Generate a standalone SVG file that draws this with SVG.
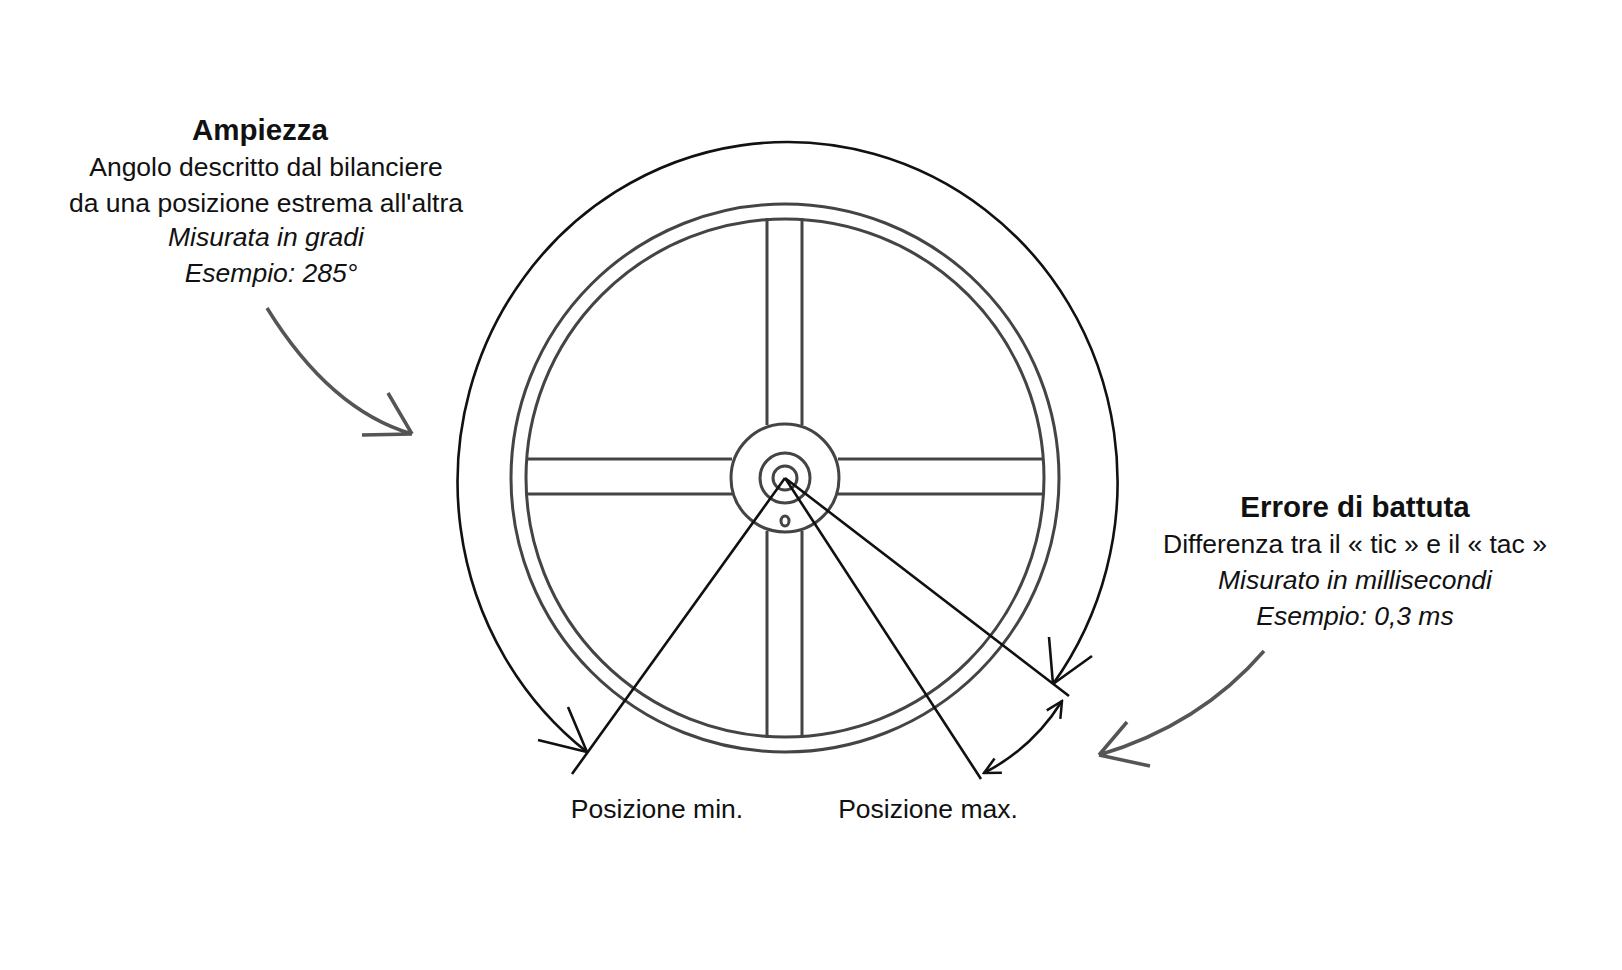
<svg xmlns="http://www.w3.org/2000/svg" width="1622" height="970" viewBox="0 0 1622 970">
<style>
text{font-family:"Liberation Sans",Arial,sans-serif;font-size:26.5px;fill:#111;text-anchor:middle}
.b{font-weight:bold;font-size:29.5px}
.i{font-style:italic}
.wheel{fill:none;stroke:#444;stroke-width:3}
.blk{fill:none;stroke:#111;stroke-width:2.6}
.gry{fill:none;stroke:#555;stroke-width:3.5}
</style>
<defs>
<marker id="v" viewBox="0 0 20 20" refX="18" refY="10" markerWidth="20" markerHeight="20" markerUnits="userSpaceOnUse" orient="auto-start-reverse">
<path d="M2 2 L18 10 L2 18" fill="none" stroke="#111" stroke-width="2.5"/>
</marker>
</defs>
<rect width="1622" height="970" fill="#fff"/>
<g id="wheel">
<circle class="wheel" cx="785" cy="478" r="274"/>
<circle class="wheel" cx="785" cy="478" r="259"/>
<path class="wheel" d="M767 218 V425 M802 218 V425 M767 531 V738 M802 531 V738 M526 459 H732 M526 494 H732 M838 459 H1044 M838 494 H1044"/>
<circle class="wheel" cx="785" cy="478" r="54"/>
<circle class="wheel" cx="785" cy="478" r="25"/>
<circle class="wheel" cx="785" cy="478" r="12"/>
<ellipse class="wheel" cx="785" cy="521" rx="4" ry="5" stroke-width="2"/>
</g>
<g id="connectors">
<path class="blk" d="M785 478 L572 774 M785 478 L981 779 M785 478 L1069 696"/>
<path class="blk" d="M587 752 A330 340 0 1 1 1053 684"/>
<path class="blk" d="M587 752 L538 740 M587 752 L568 707 M1053 684 L1049 637 M1053 684 L1092 656"/>
<path class="blk" d="M984 773 A200 200 0 0 0 1062 701" marker-start="url(#v)" marker-end="url(#v)"/>
<path class="gry" d="M267 308 Q330 410 412 434 M412 434 L362 435 M412 434 L388 393"/>
<path class="gry" d="M1264 651 Q1200 725 1099 755 M1099 755 L1127 722 M1099 755 L1150 766"/>
</g>
<g id="ampiezza">
<text x="260" y="140" class="b">Ampiezza</text>
<text x="266" y="176">Angolo descritto dal bilanciere</text>
<text x="266" y="212">da una posizione estrema all'altra</text>
<text x="266" y="246" class="i">Misurata in gradi</text>
<text x="271" y="282" class="i">Esempio: 285°</text>
</g>
<g id="errore">
<text x="1355" y="517" class="b">Errore di battuta</text>
<text x="1355" y="553">Differenza tra il « tic » e il « tac »</text>
<text x="1355" y="589" class="i">Misurato in millisecondi</text>
<text x="1355" y="625" class="i">Esempio: 0,3 ms</text>
</g>
<g id="labels">
<text x="657" y="818">Posizione min.</text>
<text x="928" y="818">Posizione max.</text>
</g>
</svg>
